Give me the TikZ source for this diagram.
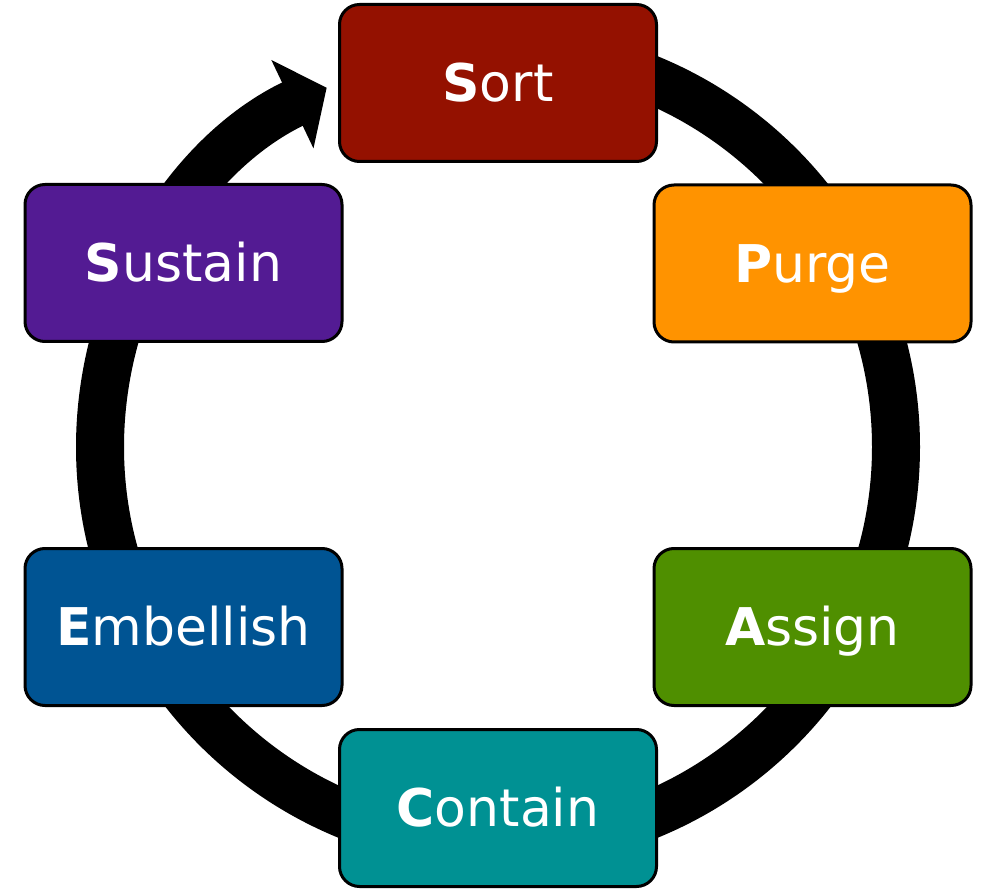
\documentclass[tikz,border=0pt]{standalone}
\usepackage{fontspec}
\setmainfont{DejaVu Sans}
\usetikzlibrary{arrows.meta,calc}
\definecolor{cayenne}{HTML}{941100}
\definecolor{tangerine}{HTML}{FF9300}
\definecolor{grape}{HTML}{531B93}
\definecolor{ocean}{HTML}{005493}
\definecolor{fern}{HTML}{4F8F00}
\definecolor{tealc}{HTML}{009193}
\tikzset{
  stagebox/.style={draw=black, line width=2.25pt, rounded corners=15pt,
    minimum width=237.75pt, minimum height=117.75pt, inner sep=0pt,
    text=white, font=\fontsize{39pt}{39pt}\selectfont,
    text height=28.4pt, text depth=0pt},
  ring/.style={line width=36pt, line cap=butt,
    -{Triangle[length=28.5pt, width=72pt]}}
}
\newcommand{\initial}[2]{\textbf{#1}#2}
\begin{document}
\begin{tikzpicture}[x=0.75pt,y=0.75pt]
\useasboundingbox (0,0) rectangle (1000,894);
\coordinate (c) at (498,447);
\coordinate (ringstart) at ($(c)+(90:298.5pt)$);
\draw[ring] (ringstart) arc[start angle=90, end angle=-244.5, radius=298.5pt];
\node[stagebox, fill=cayenne]   (sort)  at (498,811)   {\initial{S}{ort}};
\node[stagebox, fill=tangerine] (purge) at (812.5,630.5) {\initial{P}{urge}};
\node[stagebox, fill=fern]      (assign) at (812.5,267) {\initial{A}{ssign}};
\node[stagebox, fill=tealc]     (contain) at (498,86)  {\initial{C}{ontain}};
\node[stagebox, fill=ocean]     (embellish) at (183.5,267) {\initial{E}{mbellish}};
\node[stagebox, fill=grape]     (sustain) at (183.5,631) {\initial{S}{ustain}};
\end{tikzpicture}
\end{document}
